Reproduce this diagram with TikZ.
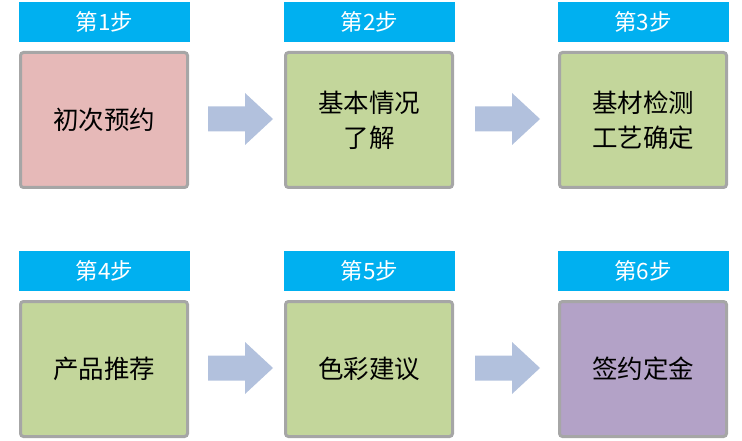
\documentclass[tikz,border=0pt]{standalone}
\usepackage{fontspec}
\setmainfont{Noto Sans CJK SC}
\usetikzlibrary{positioning}

\definecolor{headblue}{HTML}{00B0F0}
\definecolor{stepgray}{HTML}{A6A6A6}
\definecolor{steppink}{HTML}{E6B9B8}
\definecolor{stepgreen}{HTML}{C3D69B}
\definecolor{steppurple}{HTML}{B3A2C7}
\definecolor{flowblue}{HTML}{B2C1DD}

\tikzset{
    header/.style={fill=headblue, text=white, minimum width=171pt, minimum height=40pt,
        inner sep=0pt, font=\fontsize{22.5}{26}\selectfont},
    stepbox/.style={draw=stepgray, line width=3pt, rounded corners=3pt,
        minimum width=167pt, minimum height=135pt, inner sep=0pt, align=center,
        font=\fontsize{25.5}{35}\selectfont},
    flow/.style={fill=flowblue, draw=none}
}

\begin{document}
\begin{tikzpicture}[x=1pt, y=-1pt]
    \useasboundingbox (0,0) rectangle (742,441);

    % first row
    \node[header] at (104.5,22)  (h1) {第1步};
    \node[header] at (369.5,22)  (h2) {第2步};
    \node[header] at (643,22)    (h3) {第3步};

    \node[stepbox, fill=steppink]  at (104,120) (s1) {初次预约};
    \node[stepbox, fill=stepgreen] at (369,120) (s2) {基本情况\\了解};
    \node[stepbox, fill=stepgreen] at (643,120) (s3) {基材检测\\工艺确定};

    % second row
    \node[header] at (104.5,271) (h4) {第4步};
    \node[header] at (369.5,271) (h5) {第5步};
    \node[header] at (643,271)   (h6) {第6步};

    \node[stepbox, fill=stepgreen]  at (104,369) (s4) {产品推荐};
    \node[stepbox, fill=stepgreen]  at (369,369) (s5) {色彩建议};
    \node[stepbox, fill=steppurple] at (643,369) (s6) {签约定金};

    % block arrows
    \coordinate (a12) at (208,119);
    \coordinate (a23) at (475,119);
    \coordinate (a45) at (208,368);
    \coordinate (a56) at (475,368);

    \fill[flow] (a12) ++(0,-12.5) -- ++(37,0) -- ++(0,-13.5) -- ++(28,26) -- ++(-28,26) -- ++(0,-13.5) -- ++(-37,0) -- cycle;
    \fill[flow] (a23) ++(0,-12.5) -- ++(37,0) -- ++(0,-13.5) -- ++(28,26) -- ++(-28,26) -- ++(0,-13.5) -- ++(-37,0) -- cycle;
    \fill[flow] (a45) ++(0,-12.5) -- ++(37,0) -- ++(0,-13.5) -- ++(28,26) -- ++(-28,26) -- ++(0,-13.5) -- ++(-37,0) -- cycle;
    \fill[flow] (a56) ++(0,-12.5) -- ++(37,0) -- ++(0,-13.5) -- ++(28,26) -- ++(-28,26) -- ++(0,-13.5) -- ++(-37,0) -- cycle;
\end{tikzpicture}
\end{document}
